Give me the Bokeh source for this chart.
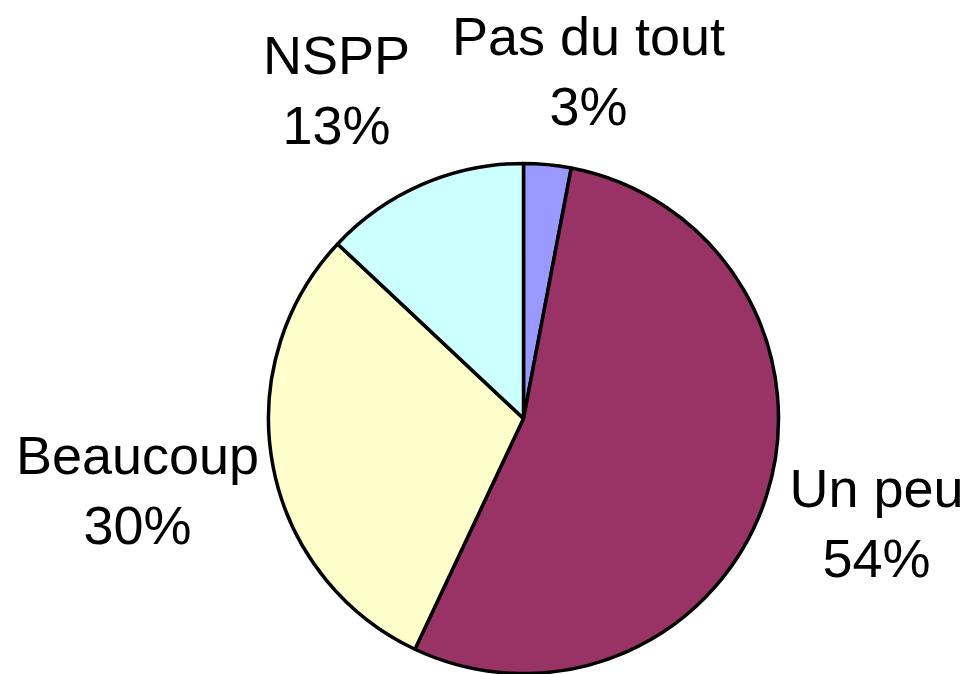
import math
from bokeh.plotting import figure
from bokeh.models import ColumnDataSource, Range1d
from bokeh.core.properties import value
from bokeh.embed import file_html
from bokeh.resources import INLINE

# ---- data ----
categories = ["Pas du tout", "Un peu", "Beaucoup", "NSPP"]
percents = [3, 54, 30, 13]
colors = ["#9999FF", "#993366", "#FFFFCC", "#CCFFFF"]

# ---- layout (plot pixel coords, y upward) ----
W, H = 967, 674
cx, cy, r = 523, 256, 255
label_x = [588, 876, 137, 336]
label_y_name = [639, 187, 220, 620]
line_gap = 70

total = float(sum(percents))
starts, ends = [], []
cum = 0.0
for v in percents:
    a0 = math.pi / 2 - 2 * math.pi * cum / total
    cum += v
    a1 = math.pi / 2 - 2 * math.pi * cum / total
    starts.append(a1)
    ends.append(a0)

src = ColumnDataSource(dict(
    cat=categories, pct=[f"{v}%" for v in percents], color=colors,
    start=starts, end=ends,
    x=[cx] * len(categories), y=[cy] * len(categories),
    lx=label_x, ly1=label_y_name, ly2=[y - line_gap for y in label_y_name],
))

p = figure(width=W, height=H, x_range=Range1d(0, W), y_range=Range1d(0, H),
           output_backend="svg", toolbar_location=None, min_border=0,
           x_axis_type=None, y_axis_type=None, outline_line_color=None,
           background_fill_color="white", border_fill_color="white")
p.grid.visible = False

p.wedge(x="x", y="y", radius=r, start_angle="start", end_angle="end",
        fill_color="color", line_color="black", line_width=3.5, source=src)

for col, field in (("ly1", "cat"), ("ly2", "pct")):
    p.text(x="lx", y=col, text=field, source=src, text_align="center",
           text_baseline="alphabetic", text_font=value("Liberation Sans"),
           text_font_size="54px", text_color="black")

open("out.html", "w").write(file_html(p, INLINE))
